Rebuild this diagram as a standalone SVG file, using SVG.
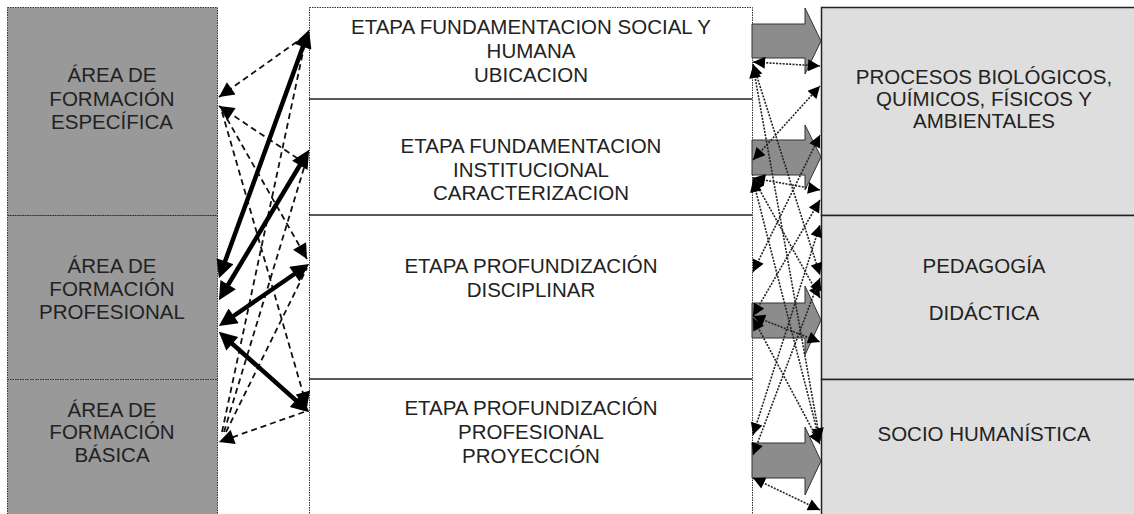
<svg xmlns="http://www.w3.org/2000/svg" width="1134" height="514" viewBox="0 0 1134 514">
<style>
.t{font-family:"Liberation Sans",Arial,sans-serif;font-size:20.5px;fill:#222;text-anchor:middle}
.lbox{fill:#999999;stroke:#333;stroke-width:1;stroke-dasharray:1.5,1}
.mbox{fill:#ffffff;stroke:#333;stroke-width:1;stroke-dasharray:1.5,1}
.mdiv{stroke:#222;stroke-width:1.5}
.rbox{fill:#dedede;stroke:#222;stroke-width:1.5}
.thick{stroke:#000;stroke-width:4.5;fill:none;marker-start:url(#hT);marker-end:url(#hT)}
.dash{stroke:#111;stroke-width:1.8;fill:none;stroke-dasharray:6,4}
.dot{stroke:#222;stroke-width:1.6;fill:none;stroke-dasharray:2,1.3;marker-start:url(#hS);marker-end:url(#hS)}
.blk{fill:#8c8c8c;stroke:#333;stroke-width:1}
</style>
<defs>
<marker id="hT" viewBox="0 0 10 10" refX="6" refY="5" markerWidth="20" markerHeight="18" markerUnits="userSpaceOnUse" orient="auto-start-reverse"><path d="M0,0 L10,5 L0,10 z" fill="#000"/></marker>
<marker id="hD" viewBox="0 0 10 10" refX="10" refY="5" markerWidth="17" markerHeight="15" markerUnits="userSpaceOnUse" orient="auto-start-reverse"><path d="M0,0 L10,5 L0,10 z" fill="#000"/></marker>
<marker id="hS" viewBox="0 0 10 10" refX="10" refY="5" markerWidth="14" markerHeight="12" markerUnits="userSpaceOnUse" orient="auto-start-reverse"><path d="M0,0 L10,5 L0,10 z" fill="#000"/></marker>
</defs>
<rect width="1134" height="514" fill="#fff"/>

<g id="area-especifica">
<rect class="lbox" x="7.5" y="7.5" width="210" height="208"/>
<text class="t" x="112" y="82">ÁREA DE</text>
<text class="t" x="112" y="106">FORMACIÓN</text>
<text class="t" x="112" y="129">ESPECÍFICA</text>
</g>
<g id="area-profesional">
<rect class="lbox" x="7.5" y="215.5" width="210" height="164"/>
<text class="t" x="112" y="273">ÁREA DE</text>
<text class="t" x="112" y="296">FORMACIÓN</text>
<text class="t" x="112" y="319">PROFESIONAL</text>
</g>
<g id="area-basica">
<rect class="lbox" x="7.5" y="379.5" width="210" height="150"/>
<text class="t" x="112" y="417">ÁREA DE</text>
<text class="t" x="112" y="439">FORMACIÓN</text>
<text class="t" x="112" y="462">BÁSICA</text>
</g>

<rect class="mbox" x="309.5" y="7.5" width="443" height="520"/>
<g id="etapa-social">
<text class="t" x="531" y="34">ETAPA FUNDAMENTACION SOCIAL Y</text>
<text class="t" x="531" y="58">HUMANA</text>
<text class="t" x="531" y="82">UBICACION</text>
<line class="mdiv" x1="309" y1="99" x2="752" y2="99"/>
</g>
<g id="etapa-institucional">
<text class="t" x="531" y="153">ETAPA FUNDAMENTACION</text>
<text class="t" x="531" y="177">INSTITUCIONAL</text>
<text class="t" x="531" y="200">CARACTERIZACION</text>
<line class="mdiv" x1="309" y1="215" x2="752" y2="215"/>
</g>
<g id="etapa-disciplinar">
<text class="t" x="531" y="273">ETAPA PROFUNDIZACIÓN</text>
<text class="t" x="531" y="297">DISCIPLINAR</text>
<line class="mdiv" x1="309" y1="379" x2="752" y2="379"/>
</g>
<g id="etapa-profesional">
<text class="t" x="531" y="415">ETAPA PROFUNDIZACIÓN</text>
<text class="t" x="531" y="439">PROFESIONAL</text>
<text class="t" x="531" y="463">PROYECCIÓN</text>
</g>

<g id="procesos">
<rect class="rbox" x="821.5" y="7.5" width="330" height="208"/>
<text class="t" x="984" y="84">PROCESOS BIOLÓGICOS,</text>
<text class="t" x="984" y="106">QUÍMICOS, FÍSICOS Y</text>
<text class="t" x="984" y="128">AMBIENTALES</text>
</g>
<g id="pedagogia">
<rect class="rbox" x="821.5" y="215.5" width="330" height="164"/>
<text class="t" x="984" y="273">PEDAGOGÍA</text>
<text class="t" x="984" y="320">DIDÁCTICA</text>
</g>
<g id="socio">
<rect class="rbox" x="821.5" y="379.5" width="330" height="150"/>
<text class="t" x="984" y="441">SOCIO HUMANÍSTICA</text>
</g>

<g id="connectors">
<path class="dash" d="M305,36 L219,97" marker-end="url(#hD)"/>
<path class="dash" d="M306,164 L219,106" marker-end="url(#hD)"/>
<path class="dash" d="M222,110 L307,259" marker-end="url(#hD)"/>
<path class="dash" d="M222,112 L307,407" marker-end="url(#hD)"/>
<path class="dash" d="M304,412 L219,442" marker-end="url(#hD)"/>
<path class="dash" d="M222,432 L306,38"/>
<path class="dash" d="M224,432 L307,158"/>
<path class="dash" d="M226,432 L307,268"/>
<path class="thick" d="M221.4,271.4 L306.6,36.6"/>
<path class="thick" d="M222.6,294 L305.4,156"/>
<path class="thick" d="M224.8,322 L303.2,268"/>
<path class="thick" d="M224.2,336.6 L303.8,407.4"/>
<path class="blk" d="M752,24 L805,24 L805,8 L821,41 L805,74 L805,58 L752,58 Z"/>
<path class="blk" d="M752,140 L805,140 L805,125 L821,157 L805,190 L805,175 L752,175 Z"/>
<path class="blk" d="M752,303 L805,303 L805,286 L821,320 L805,355 L805,338 L752,338 Z"/>
<path class="blk" d="M752,443 L805,443 L805,427 L821,461 L805,495 L805,478 L752,478 Z"/>
<path class="dot" d="M753,62 L820,66"/>
<path class="dot" d="M753,64 L820,275"/>
<path class="dot" d="M753,66 L820,440"/>
<path class="dot" d="M753,160 L820,86"/>
<path class="dot" d="M753,178 L820,190"/>
<path class="dot" d="M753,178 L820,298"/>
<path class="dot" d="M753,180 L820,442"/>
<path class="dot" d="M753,272 L820,135"/>
<path class="dot" d="M753,316 L820,200"/>
<path class="dot" d="M753,316 L820,342"/>
<path class="dot" d="M753,318 L820,444"/>
<path class="dot" d="M753,435 L820,225"/>
<path class="dot" d="M753,455 L820,278"/>
<path class="dot" d="M753,478 L820,510"/>
</g>
</svg>
